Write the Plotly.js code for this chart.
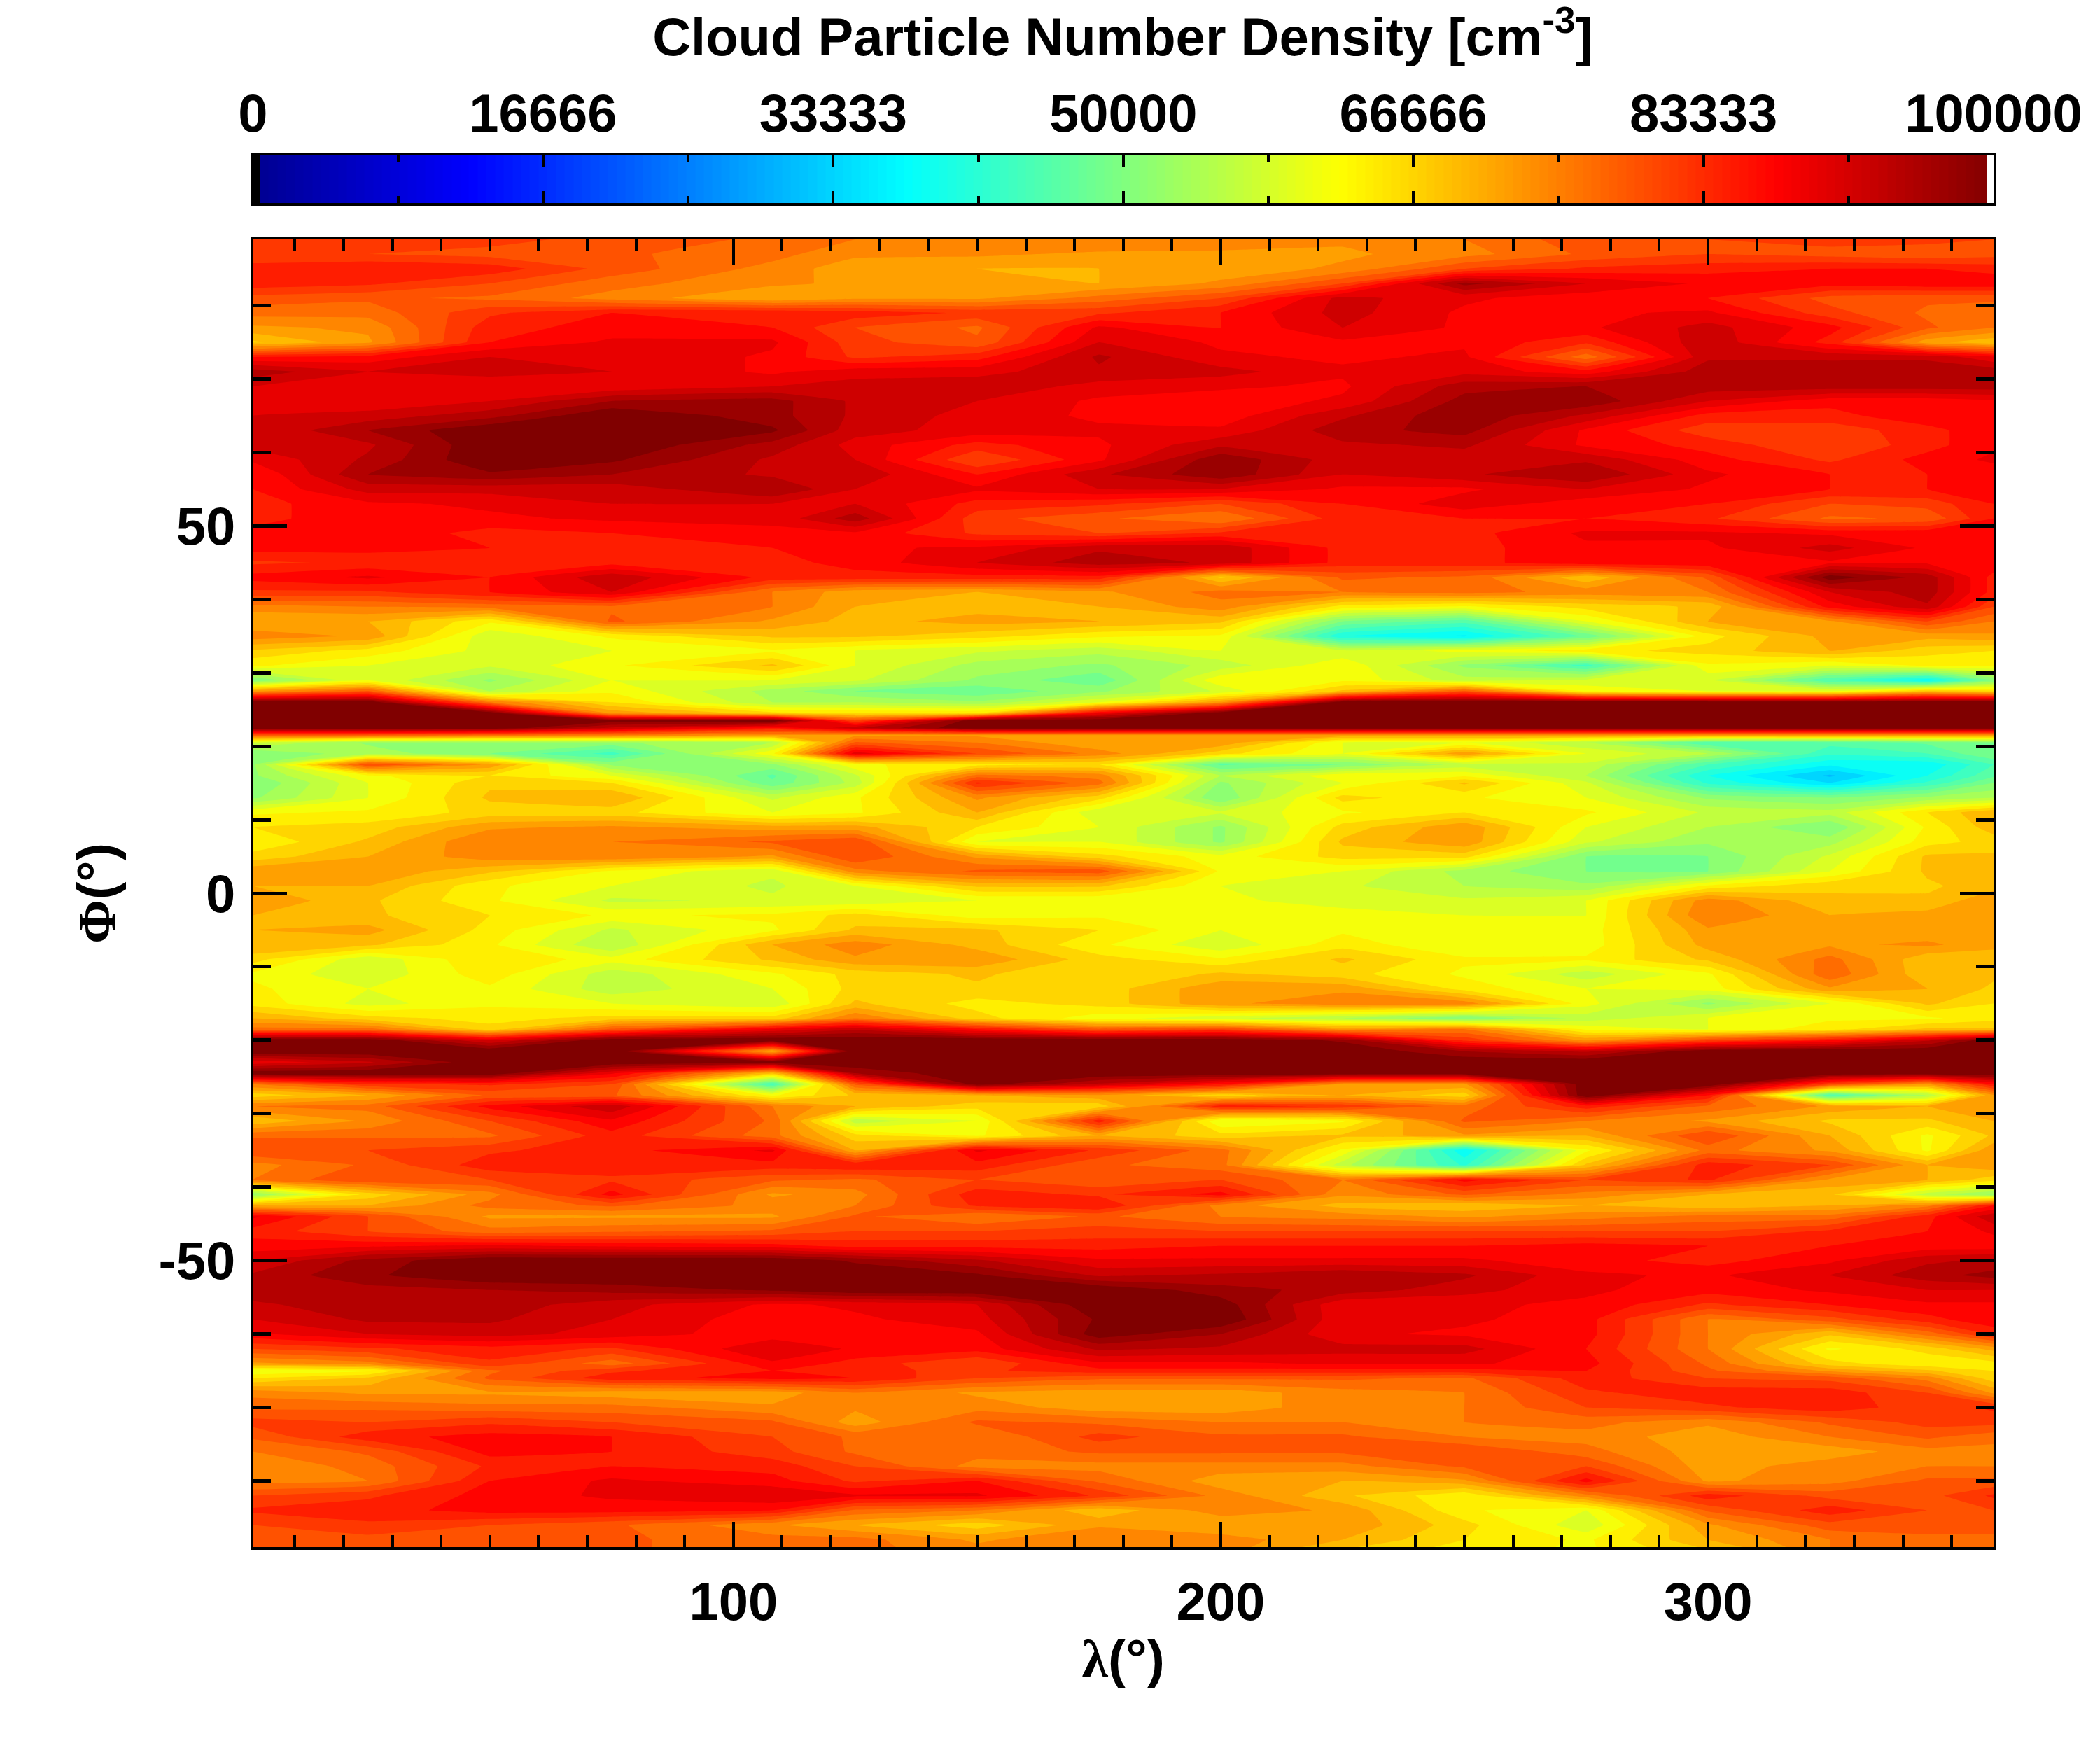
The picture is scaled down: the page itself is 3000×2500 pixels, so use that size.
<!DOCTYPE html>
<html><head><meta charset="utf-8">
<script src="https://cdn.plot.ly/plotly-3.0.1.min.js"></script>
<style>html,body{margin:0;padding:0;background:#fff}</style></head>
<body><div id="chart" style="width:3000px;height:2500px"></div>
<script>
const longitudes = [1.4,25,50,75,108,125,150,175,200,225,250,275,300,325,345,358.6];
const latitudes = [89,87,85,83,81,79,77,75,73,71,69,67,65,63,61,59,57,55,53,51,49,47,45,43,41,39,37,35,33,31,29,27.5,26,24.5,23.5,22.5,21.5,20.5,19,17.5,16,15,13,11,9,7,5,3,1,-1,-3,-5,-7,-9,-11,-13,-15,-17,-18.5,-20,-21.5,-23,-24.5,-26,-27.5,-29,-31,-33,-35,-37,-39,-41,-42.5,-44,-46,-48,-50,-52,-54,-56,-58,-60,-62,-64,-65,-66,-68,-70,-72,-74,-76,-78,-80,-82,-84,-86,-88,-89];
// cloud particle number density, thousands of cm^-3, one row per latitude
const densityK = [
[81,81,81,79,77,75,75,75,74,73,75,79,80,81,81,80],
[80,80,79,78,76,73,73,72,72,72,74,78,80,79,78,79],
[84,85,84,79,74,71,70,70,71,73,80,83,84,85,85,84],
[84,83,80,76,73,72,71,70,73,80,96,90,87,86,87,87],
[79,78,77,74,70,72,72,76,80,91,88,86,85,79,78,78],
[76,76,82,85,85,84,82,82,85,91,87,87,88,81,77,76],
[72,73,84,86,85,80,77,88,85,90,87,87,91,86,78,75],
[67,72,85,88,88,81,78,90,87,87,87,83,92,84,71,68],
[85,86,90,90,87,82,84,93,88,87,88,76,92,92,92,88],
[94,90,91,90,87,89,89,92,91,88,89,86,94,94,94,94],
[90,88,88,88,90,91,92,89,88,87,94,95,94,94,94,94],
[88,88,90,95,96,92,90,87,86,88,96,97,90,86,86,87],
[90,91,94,100,96,92,89,87,86,92,97,92,84,84,87,87],
[90,95,100,100,98,91,89,88,88,94,96,87,81,81,84,87],
[91,92,100,100,94,89,84,87,92,92,93,87,84,80,84,87],
[88,93,100,98,92,90,80,87,97,91,91,92,86,82,86,88],
[85,95,97,95,92,92,85,92,97,90,92,95,88,85,85,86],
[85,91,91,91,95,90,88,90,90,87,87,90,87,85,85,86],
[84,87,88,90,90,90,84,83,80,85,89,86,85,80,81,85],
[84,87,87,88,88,94,81,78,75,84,85,85,83,77,78,85],
[86,87,84,85,87,87,82,80,83,84,84,88,88,87,87,87],
[86,86,85,85,85,87,88,92,92,84,84,87,87,91,87,87],
[82,83,84,84,84,86,90,94,92,84,84,87,87,87,87,87],
[86,88,85,92,84,84,84,84,67,78,77,68,78,99,94,84],
[82,82,85,90,75,71,70,72,76,75,76,74,75,90,94,84],
[74,75,76,77,75,70,69,70,74,64,62,66,68,86,92,80],
[70,70,63,78,72,69,71,70,68,50,46,60,70,72,80,75],
[74,72,58,63,68,68,66,63,62,40,37,48,64,71,71,72],
[67,64,59,60,62,60,58,56,60,58,61,64,66,70,66,65],
[63,60,58,62,68,60,54,52,56,62,52,44,62,60,63,63],
[50,60,52,60,60,58,52,48,62,62,56,58,58,45,38,50],
[72,78,55,62,54,50,48,52,58,68,78,62,60,60,68,66],
[100,100,75,65,55,55,53,60,72,100,100,100,100,100,100,100],
[100,100,100,72,66,65,65,88,100,100,100,100,100,100,100,100],
[100,100,100,99,100,80,100,100,100,100,100,100,100,100,100,100],
[100,100,100,92,85,92,100,100,100,100,100,100,100,100,100,100],
[78,78,76,75,72,72,72,72,72,72,72,72,72,72,72,72],
[58,52,52,52,55,78,75,70,72,60,60,55,45,46,48,50],
[50,54,50,44,62,89,80,74,66,60,72,60,55,43,45,50],
[52,80,72,52,52,62,64,65,47,50,56,57,45,38,38,45],
[52,62,65,60,47,57,76,74,55,62,62,55,40,32,40,47],
[50,60,67,65,48,56,83,76,52,60,68,58,42,35,43,50],
[52,60,68,70,57,62,73,66,50,66,63,60,52,50,53,55],
[62,63,66,66,60,62,70,58,58,62,65,63,57,56,65,70],
[65,66,72,73,71,71,65,60,52,66,72,60,55,50,63,69],
[63,68,75,75,78,80,60,60,52,68,72,58,53,54,64,66],
[66,70,74,75,72,80,72,66,61,66,66,50,50,58,68,68],
[72,72,68,62,58,74,78,79,62,60,54,50,50,60,68,68],
[70,70,63,60,57,60,68,68,60,58,55,53,63,67,67,69],
[72,68,63,57,58,58,60,60,61,58,58,60,74,68,68,72],
[70,68,65,62,63,66,61,62,60,62,60,60,75,70,71,72],
[70,71,64,57,62,68,68,65,60,62,62,61,72,70,71,71],
[70,68,63,55,70,74,69,63,58,64,60,61,71,72,73,71],
[66,58,65,61,68,72,72,66,63,68,63,63,68,76,68,68],
[62,58,64,56,62,66,68,65,68,66,62,56,62,77,68,68],
[63,60,62,56,60,66,67,66,72,72,64,60,61,72,70,67],
[64,59,62,60,58,68,64,66,72,74,74,61,52,60,68,65],
[70,66,64,66,66,75,66,61,58,55,50,56,60,62,62,64],
[76,76,66,78,88,92,85,78,80,72,75,62,60,64,68,68],
[100,100,90,100,100,100,100,100,100,97,82,72,80,85,92,100],
[100,100,100,100,70,100,100,100,100,100,95,92,100,100,100,100],
[88,92,100,100,100,100,100,100,100,100,100,100,100,100,100,100],
[100,100,100,88,68,95,100,100,100,100,100,100,100,100,100,100],
[75,82,83,80,44,78,99,92,85,72,72,100,100,80,72,85],
[66,70,78,78,62,68,70,72,66,70,66,100,85,45,55,72],
[75,76,86,92,75,70,66,66,84,82,76,84,77,72,70,72],
[68,73,80,87,77,56,60,84,60,62,78,75,72,67,67,70],
[77,77,77,84,76,66,62,70,66,68,72,70,80,70,62,68],
[80,80,82,84,88,70,88,82,76,62,38,62,76,72,62,72],
[74,78,84,84,84,85,84,78,76,56,42,68,84,80,70,72],
[75,80,80,82,78,77,80,78,80,75,86,80,83,72,70,66],
[52,66,74,86,72,74,84,82,86,73,78,74,70,68,56,52],
[70,70,76,78,74,75,83,85,74,69,68,70,68,70,74,85],
[88,80,72,72,72,78,75,78,75,74,72,74,76,76,84,92],
[84,80,76,77,78,80,80,81,80,80,80,80,80,83,85,88],
[86,87,88,87,86,84,84,84,85,85,85,86,85,85,86,86],
[90,96,100,100,100,97,93,88,88,88,88,86,84,87,92,93],
[93,97,100,100,100,100,98,92,93,95,93,88,87,90,94,96],
[94,94,95,96,98,100,100,100,96,94,91,88,86,88,90,90],
[92,94,94,91,87,88,90,100,99,88,88,87,82,85,87,87],
[90,93,93,90,86,87,89,98,100,88,88,86,75,79,84,87],
[87,90,91,89,86,87,87,99,95,88,87,86,75,68,76,83],
[80,82,84,82,90,87,86,93,92,91,91,85,75,62,66,71],
[72,74,82,76,87,84,80,87,87,88,88,86,77,66,63,64],
[60,62,77,82,85,83,82,84,84,84,84,85,78,72,68,65],
[65,68,78,84,86,85,80,78,78,78,77,84,80,79,74,66],
[74,72,72,71,71,75,72,71,71,74,75,82,84,84,80,72],
[77,77,76,76,73,73,74,71,71,74,75,80,82,84,81,83],
[81,80,82,80,78,71,78,77,75,75,75,76,73,78,81,81],
[78,84,86,85,80,77,75,81,78,78,75,74,71,75,78,76],
[75,78,86,85,81,77,76,78,78,78,80,76,71,71,74,74],
[73,76,83,85,84,80,74,74,74,74,78,80,71,74,75,75],
[74,75,85,88,86,82,85,77,71,70,72,86,72,74,78,78],
[80,82,86,88,90,88,88,82,74,68,63,74,84,79,79,83],
[83,84,86,86,85,77,75,68,74,72,63,60,78,84,80,80],
[80,82,80,78,73,70,66,72,70,72,66,58,72,79,80,80],
[78,79,78,78,76,76,72,75,74,70,65,62,70,75,76,76],
[78,78,78,78,76,76,73,74,74,68,64,62,68,75,76,76]
];
const barLevels = [650,1150,1650,2150,2650,3150,3650,4150,4650,5150,5650,6150,6650,7150,7650,8150,8650,9150,9650,10150,10650,11150,11650,12150,12650,13150,13650,14150,14650,15150,15650,16150,16650,17150,17650,18150,18650,19150,19650,20150,20650,21150,21650,22150,22650,23150,23650,24150,24650,25150,25650,26150,26650,27150,27650,28150,28650,29150,29650,30150,30650,31150,31650,32150,32650,33150,33650,34150,34650,35150,35650,36150,36650,37150,37650,38150,38650,39150,39650,40150,40650,41150,41650,42150,42650,43150,43650,44150,44650,45150,45650,46150,46650,47150,47650,48150,48650,49150,49650,50150,50650,51150,51650,52150,52650,53150,53650,54150,54650,55150,55650,56150,56650,57150,57650,58150,58650,59150,59650,60150,60650,61150,61650,62150,62650,63150,63650,64150,64650,65150,65650,66150,66650,67150,67650,68150,68650,69150,69650,70150,70650,71150,71650,72150,72650,73150,73650,74150,74650,75150,75650,76150,76650,77150,77650,78150,78650,79150,79650,80150,80650,81150,81650,82150,82650,83150,83650,84150,84650,85150,85650,86150,86650,87150,87650,88150,88650,89150,89650,90150,90650,91150,91650,92150,92650,93150,93650,94150,94650,95150,95650,96150,96650,97150,97650,98150,98650,99150,99450];
const barTicks = [0,16666,33333,50000,66666,83333,100000];
const barTickText = ['0','16666','33333','50000','66666','83333','100000'];
const lonTicks = [100,200,300];
const latTicks = [-50,0,50];
const latTickText = ['-50','0','50'];
const jet = [[0,'#00008f'],[0.125,'#0000ff'],[0.375,'#00ffff'],[0.625,'#ffff00'],[0.875,'#ff0000'],[1,'#800000']];
const W=3000,H=2500;
const fontFam='"Liberation Sans", Arial, sans-serif';
const tf={family:fontFam,size:76,color:'#000',weight:700};
const density=densityK.map(r=>r.map(v=>v*1000));
const traces=[
 {type:'contour',x:longitudes,y:latitudes,z:density,xaxis:'x',yaxis:'y',colorscale:jet,zauto:false,zmin:1250,zmax:98750,
  autocontour:false,contours:{coloring:'fill',start:0,end:100000,size:2500,showlines:false},line:{width:0,smoothing:0.15},showscale:false,hoverinfo:'skip'},
 {type:'heatmap',x:barLevels,y:[0,1],z:[barLevels,barLevels],xaxis:'x2',yaxis:'y2',colorscale:jet,zauto:false,zmin:0,zmax:100000,showscale:false,hoverinfo:'skip',zsmooth:false}
];
const greek=g=>'<span style="font-family:\'Liberation Serif\'">'+g+'</span>(°)';
const layout={
 width:W,height:H,margin:{l:0,r:0,t:0,b:0},paper_bgcolor:'#fff',plot_bgcolor:'#fff',showlegend:false,
 title:{text:'Cloud Particle Number Density [cm<sup>-3</sup>]',x:0.5347,xanchor:'center',y:0.979,yanchor:'middle',font:{family:fontFam,size:76,color:'#000',weight:700}},
 xaxis:{domain:[361.5/W,2848/W],anchor:'y',range:[1.4,358.6],tickmode:'array',tickvals:lonTicks,ticktext:lonTicks.map(String),
  ticks:'inside',ticklen:36,tickwidth:4,tickcolor:'#000',showline:true,linecolor:'#000',linewidth:4,mirror:'ticks',showgrid:false,zeroline:false,
  minor:{tickmode:'linear',tick0:0,dtick:10,ticks:'inside',ticklen:17,tickwidth:4,tickcolor:'#000',showgrid:false},
  tickfont:tf,ticklabelstandoff:9,title:{text:greek('λ'),font:tf,standoff:15}},
 yaxis:{domain:[1-2210/H,1-342/H],anchor:'x',range:[-89,89],tickmode:'array',tickvals:latTicks,ticktext:latTickText,
  ticks:'inside',ticklen:48,tickwidth:5,tickcolor:'#000',showline:true,linecolor:'#000',linewidth:4,mirror:'ticks',showgrid:false,zeroline:false,
  minor:{tickmode:'linear',tick0:0,dtick:10,ticks:'inside',ticklen:25,tickwidth:5,tickcolor:'#000',showgrid:false},
  tickfont:tf,ticklabelstandoff:6,title:{text:greek('Φ'),font:tf,standoff:38}},
 xaxis2:{domain:[361.5/W,2848/W],anchor:'y2',side:'top',range:[0,100000],tickmode:'array',tickvals:barTicks,ticktext:barTickText,
  ticks:'inside',ticklen:17,tickwidth:4,tickcolor:'#000',showline:true,linecolor:'#000',linewidth:4,mirror:'ticks',showgrid:false,zeroline:false,
  minor:{tickmode:'linear',tick0:0,dtick:8333.3333,ticks:'inside',ticklen:10,tickwidth:4,tickcolor:'#000',showgrid:false},
  tickfont:tf,ticklabelstandoff:0},
 yaxis2:{domain:[1-290/H,1-222/H],anchor:'x2',range:[0,1],showticklabels:false,ticks:'',showline:true,linecolor:'#000',linewidth:4,mirror:true,showgrid:false,zeroline:false},
 shapes:[{type:'rect',xref:'x2',yref:'y2 domain',x0:0,x1:400,y0:0,y1:1,fillcolor:'#000',line:{width:0},layer:'above'}]
};
Plotly.newPlot('chart',traces,layout,{displayModeBar:false,staticPlot:true});
</script></body></html>
